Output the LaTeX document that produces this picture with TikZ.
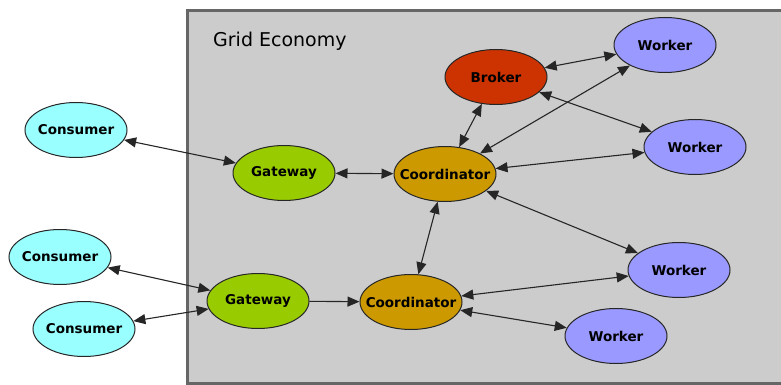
\documentclass[tikz,border=0pt]{standalone}
\usepackage{fontspec}
\setmainfont{DejaVu Sans}
\usetikzlibrary{shapes.geometric,arrows.meta}
\definecolor{consumerfill}{HTML}{99FFFF}
\definecolor{gatewayfill}{HTML}{99CC00}
\definecolor{coordfill}{HTML}{CC9900}
\definecolor{brokerfill}{HTML}{CC3300}
\definecolor{workerfill}{HTML}{9999FF}
\definecolor{zonefill}{HTML}{CCCCCC}
\definecolor{zoneline}{HTML}{666666}
\newcommand{\agentlabel}[1]{\makebox[0pt]{#1}}
\tikzset{
  agent/.style={ellipse, draw=black!85, line width=1pt, minimum width=102pt,
    minimum height=55pt, inner sep=0pt, font=\fontsize{13.5}{15}\selectfont\bfseries},
  consumer/.style={agent, fill=consumerfill},
  gateway/.style={agent, fill=gatewayfill},
  coord/.style={agent, fill=coordfill},
  broker/.style={agent, fill=brokerfill},
  worker/.style={agent, fill=workerfill},
  tip/.style={Triangle[length=12pt,width=10pt]},
  link/.style={line width=1.1pt, draw=black!85, {Triangle[length=12pt,width=10pt]}-{Triangle[length=12pt,width=10pt]}},
  oneway/.style={line width=1.1pt, draw=black!85, -{Triangle[length=12pt,width=10pt]}}
}
\begin{document}
\begin{tikzpicture}[x=1pt,y=-1pt]
  \useasboundingbox (0,0) rectangle (781,385);
  % grid economy zone
  \draw[fill=zonefill, draw=zoneline, line width=3pt] (187.6,10.3) rectangle (800,383.6);
  \node[anchor=base west, inner sep=0pt, font=\fontsize{19}{22}\selectfont] (title) at (213,47) {Grid Economy};

  % consumers outside the zone
  \node[consumer] (c1) at (76,130) {\agentlabel{Consumer}};
  \node[consumer] (c2) at (60,257) {\agentlabel{Consumer}};
  \node[consumer] (c3) at (84,329) {\agentlabel{Consumer}};

  % agents inside the zone
  \node[gateway] (g1) at (284,173) {\agentlabel{Gateway}};
  \node[gateway] (g2) at (258,301) {\agentlabel{Gateway}};
  \node[coord] (k1) at (445,174) {\agentlabel{Coordinator}};
  \node[coord] (k2) at (411,302) {\agentlabel{Coordinator}};
  \node[broker] (b) at (496,77) {\agentlabel{Broker}};
  \node[worker] (w1) at (665,45) {\agentlabel{Worker}};
  \node[worker] (w2) at (695,147) {\agentlabel{Worker}};
  \node[worker] (w3) at (679,270) {\agentlabel{Worker}};
  \node[worker] (w4) at (616,336) {\agentlabel{Worker}};

  % connections
  \draw[link] (c1) -- (g1);
  \draw[link] (c2) -- (g2);
  \draw[link] (c3) -- (g2);
  \draw[link] (g1) -- (k1);
  \draw[oneway] (g2) -- (k2);
  \draw[link] (k1) -- (b);
  \draw[link] (k1) -- (k2);
  \draw[link] (k1) -- (w1);
  \draw[link] (k1) -- (w2);
  \draw[link] (k1) -- (w3);
  \draw[link] (b) -- (w1);
  \draw[link] (b) -- (w2);
  \draw[link] (k2) -- (w3);
  \draw[link] (k2) -- (w4);
\end{tikzpicture}
\end{document}
